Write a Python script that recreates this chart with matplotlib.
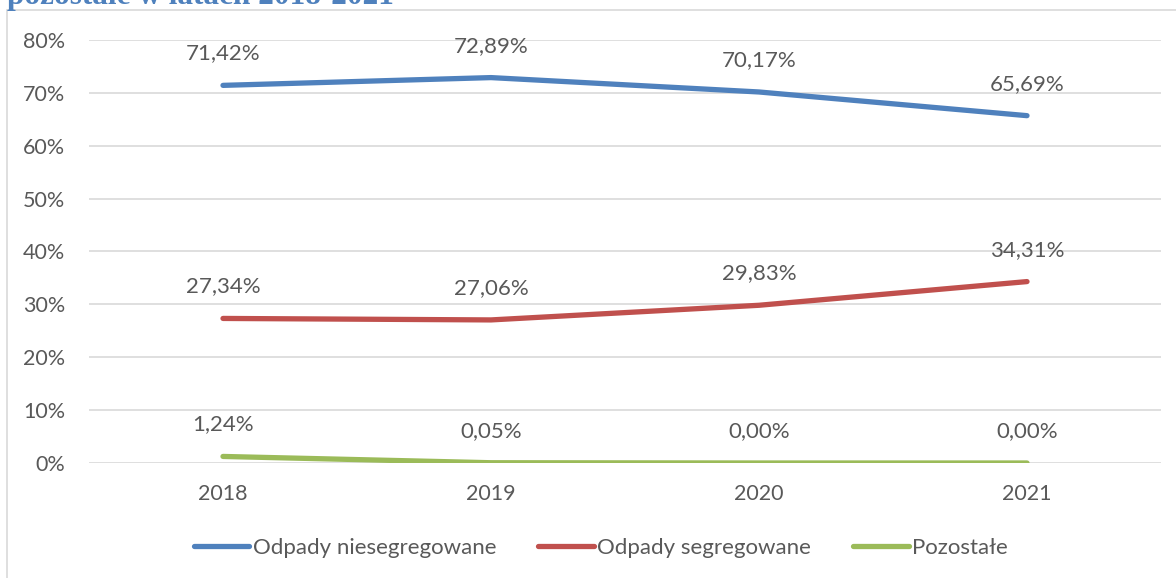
import matplotlib.pyplot as plt
from matplotlib.patches import Rectangle
from matplotlib.ticker import FuncFormatter

years = ['2018', '2019', '2020', '2021']
niesegregowane = [71.42, 72.89, 70.17, 65.69]
segregowane = [27.34, 27.06, 29.83, 34.31]
pozostale = [1.24, 0.05, 0.00, 0.00]

series = [
    ('Odpady niesegregowane', niesegregowane, '#4f81bd'),
    ('Odpady segregowane', segregowane, '#c0504d'),
    ('Pozostałe', pozostale, '#9bbb59'),
]

text_color = '#595959'
plt.rcParams['font.family'] = ['Lato', 'DejaVu Sans']

fig = plt.figure(figsize=(11.76, 5.78), dpi=100)
ax = fig.add_axes([89 / 1176, 1 - 463 / 578, (1161 - 89) / 1176, (463 - 40) / 578])

# chart frame, cut off by the screenshot on the right and bottom
fig.patches.append(Rectangle((7 / 1176, -0.1), 1.2, 1 - 10 / 578 + 0.1, transform=fig.transFigure,
                             fill=False, edgecolor='#d9d9d9', linewidth=1.2))

# title from the document, mostly cut off
fig.text(7 / 1176, 1 - 4 / 578, 'pozostałe w latach 2018-2021', family='Liberation Serif',
         weight='bold', fontsize=22.5, color='#4f81bd', va='baseline', ha='left')

x = list(range(len(years)))
for name, values, color in series:
    ax.plot(x, values, color=color, linewidth=3.8, solid_capstyle='round', label=name)
    for xi, v in zip(x, values):
        ax.annotate(f'{v:.2f}%'.replace('.', ','), (xi, v), xytext=(0, 23), textcoords='offset points',
                    ha='center', va='center', fontsize=16, color=text_color)

ax.set_xlim(-0.5, 3.5)
ax.set_ylim(0, 80)
ax.set_yticks(range(0, 81, 10))
ax.yaxis.set_major_formatter(FuncFormatter(lambda v, _: f'{v:.0f}%'))
ax.set_xticks(x)
ax.set_xticklabels(years)
ax.tick_params(length=0, labelsize=15.5, labelcolor=text_color)
ax.tick_params(axis='y', pad=17)
ax.tick_params(axis='x', pad=15)
ax.grid(axis='y', color='#d9d9d9', linewidth=1.2)
ax.set_axisbelow(True)
for s in ax.spines.values():
    s.set_visible(False)

fig.legend(loc='center', bbox_to_anchor=(601 / 1176, 1 - 548 / 578), ncol=3, frameon=False,
           fontsize=16, labelcolor=text_color, handlelength=2.5, handletextpad=0.15,
           columnspacing=1.9)

fig.savefig('out.png', dpi=100)
